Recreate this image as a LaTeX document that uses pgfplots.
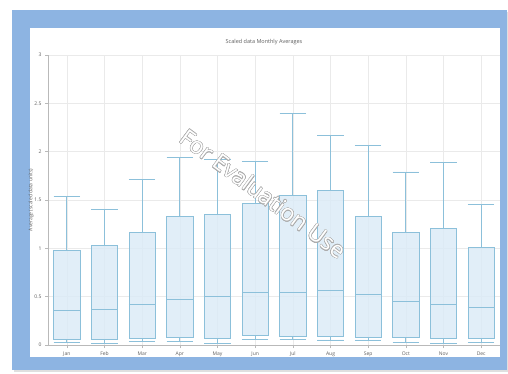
\documentclass[border=0pt]{standalone}
\usepackage{pgfplots}
\pgfplotsset{compat=1.18}
\usepackage{pgfplotstable}
\usepgfplotslibrary{statistics}
\usepackage{fontspec}
\setmainfont{Open Sans}
\usepackage{contour}
\contourlength{0.45pt}

\definecolor{frameblue}{RGB}{141,180,226}
\definecolor{boxline}{RGB}{140,192,218}
\definecolor{boxfill}{RGB}{218,234,247}
\definecolor{gridc}{RGB}{234,234,234}
\definecolor{axisc}{RGB}{185,185,185}
\definecolor{textc}{RGB}{95,95,95}

% five-number summaries per month (scaled data)
\pgfplotstableread{
pos lw    lq    med   uq    uw
0   0.028 0.062 0.360 0.975 1.540
1   0.017 0.060 0.370 1.030 1.400
2   0.040 0.072 0.420 1.165 1.710
3   0.037 0.080 0.470 1.330 1.940
4   0.017 0.072 0.500 1.355 1.920
5   0.055 0.097 0.545 1.465 1.900
6   0.059 0.086 0.548 1.550 2.400
7   0.052 0.086 0.560 1.600 2.170
8   0.052 0.083 0.520 1.330 2.060
9   0.031 0.076 0.455 1.170 1.790
10  0.017 0.065 0.417 1.210 1.885
11  0.031 0.069 0.386 1.006 1.450
}\monthly

\newcommand\getstat[2]{\pgfplotstablegetelem{#1}{#2}\of\monthly\edef\statval{\pgfplotsretval}}

\begin{document}
\begin{tikzpicture}[x=1pt,y=1pt]
% page, frame and chart panel
\fill[white] (0,0) rectangle (508,373);
\fill[gray!25] (14,1) rectangle (508,361);
\fill[frameblue] (12,3) rectangle (507,363);
\fill[white] (30,16) rectangle (500,345);

\begin{axis}[
  at={(48pt,28pt)}, anchor=south west,
  scale only axis, width=452pt, height=290pt,
  xmin=-0.5, xmax=11.5, ymin=0, ymax=3,
  boxplot/draw direction=y,
  axis x line=bottom, axis y line=left,
  axis line style={draw=axisc, line width=0.6pt, -},
  xtick={0,...,11},
  xticklabels={Jan,Feb,Mar,Apr,May,Jun,Jul,Aug,Sep,Oct,Nov,Dec},
  ytick={0,0.5,1,1.5,2,2.5,3},
  yticklabels={0,0.5,1,1.5,2,2.5,3},
  grid=major, major grid style={draw=gridc, line width=0.5pt},
  tick style={draw=axisc, line width=0.5pt},
  major tick length=3pt, tick align=outside,
  ticklabel style={font=\fontsize{5}{6}\selectfont, text=textc},
  /pgf/number format/assume math mode=true,
  clip=false,
]
\pgfplotsinvokeforeach{0,...,11}{
  \getstat{#1}{lw}\let\vlw\statval
  \getstat{#1}{lq}\let\vlq\statval
  \getstat{#1}{med}\let\vmed\statval
  \getstat{#1}{uq}\let\vuq\statval
  \getstat{#1}{uw}\let\vuw\statval
  \edef\doplot{\noexpand\addplot[draw=boxline, fill=boxfill, fill opacity=0.8,
    line width=0.75pt,
    boxplot prepared={draw position=#1, lower whisker=\vlw,
      lower quartile=\vlq, median=\vmed, upper quartile=\vuq,
      upper whisker=\vuw, box extend=0.7, whisker extend=0.7}]
    coordinates {};}
  \doplot
}
\end{axis}

\node[font=\fontsize{5.5}{6.5}\selectfont, text=textc] at (264,331) {Scaled data Monthly Averages};
\node[rotate=90, font=\fontsize{5}{6}\selectfont, text=textc] at (31,173) {Average (scaled data units)};

% watermark
\node[rotate=-36.5, font=\fontsize{23}{26}\selectfont] at (263,179)
  {\contour{gray!65}{\textcolor{white}{For Evaluation Use}}};
\end{tikzpicture}
\end{document}
